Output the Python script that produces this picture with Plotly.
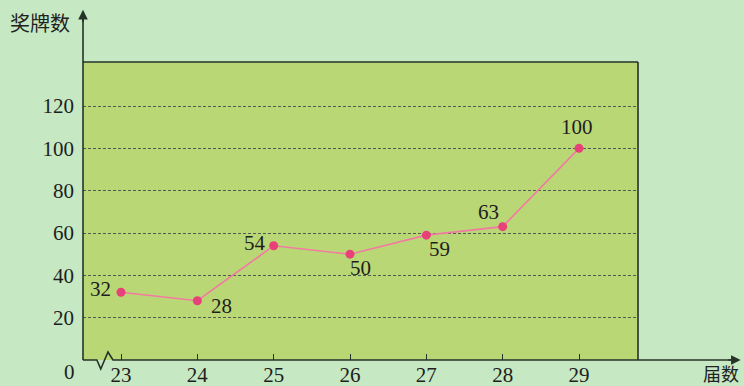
import plotly.graph_objects as go

# 届数 and 奖牌数
sessions = [23, 24, 25, 26, 27, 28, 29]
medals = [32, 28, 54, 50, 59, 63, 100]
y_ticks = [20, 40, 60, 80, 100, 120]

# pixel offsets of each value label from its marker
label_dx = [-21, 24, -19, 10, 13, -14, -2]
label_dy = [3, -5, 3, -14, -14, 15, 21]

BG = "#c6e8c2"
PLOT_BG = "#bad775"
AXIS = "#26322a"
SERIF = "Liberation Serif, Times New Roman, serif"
CJK = "Noto Sans CJK SC"

fig = go.Figure()
fig.add_trace(
    go.Scatter(
        x=sessions,
        y=medals,
        mode="lines+markers",
        line={"color": "#f27aa2", "width": 1.6},
        marker={"color": "#e8417a", "size": 9},
        cliponaxis=False,
        hoverinfo="skip",
    )
)

for x, y, dx, dy in zip(sessions, medals, label_dx, label_dy):
    fig.add_annotation(x=x, y=y, text=str(y), showarrow=False, xshift=dx, yshift=dy,
                       font={"family": SERIF, "size": 21, "color": "#1e1e1e"})

# axes frame: x axis with break zigzag, y axis, top and right border
zig = "M 0,0 L 0.025,0 L 0.032,-0.030 L 0.045,0.027 L 0.054,0 L 1.17,0"
fig.add_shape(type="path", path=zig, xref="paper", yref="paper",
              line={"color": AXIS, "width": 1.6})
fig.add_shape(type="line", x0=0, x1=0, y0=0, y1=1.16, xref="paper", yref="paper",
              line={"color": AXIS, "width": 1.6})
fig.add_shape(type="line", x0=0, x1=1, y0=1, y1=1, xref="paper", yref="paper",
              line={"color": AXIS, "width": 1.6})
fig.add_shape(type="line", x0=1, x1=1, y0=0, y1=1, xref="paper", yref="paper",
              line={"color": AXIS, "width": 1.6})

# arrow heads
fig.add_annotation(x=0, y=1.175, xref="paper", yref="paper", text="", showarrow=True,
                   ax=0, ay=14, arrowhead=2, arrowsize=1.2, arrowwidth=1.6,
                   arrowcolor=AXIS)
fig.add_annotation(x=1.185, y=0, xref="paper", yref="paper", text="", showarrow=True,
                   ax=-14, ay=0, arrowhead=2, arrowsize=1.2, arrowwidth=1.6,
                   arrowcolor=AXIS)

fig.add_annotation(x=-0.0775, y=1.134, xref="paper", yref="paper", text="奖牌数",
                   showarrow=False, xanchor="center", yanchor="middle",
                   font={"family": CJK, "size": 20, "color": "#222"})
fig.add_annotation(x=1.15, y=-0.042, xref="paper", yref="paper", text="届数",
                   showarrow=False, xanchor="center", yanchor="middle",
                   font={"family": CJK, "size": 18, "color": "#222"})
fig.add_annotation(x=-0.024, y=0, xref="paper", yref="paper", text="0",
                   showarrow=False, xanchor="center", yanchor="middle", yshift=-12,
                   font={"family": SERIF, "size": 21, "color": "#1e1e1e"})

fig.update_xaxes(
    range=[22.502, 29.773],
    tickvals=sessions,
    ticks="inside",
    ticklen=6,
    tickwidth=1.4,
    tickcolor=AXIS,
    showgrid=False,
    zeroline=False,
    showline=False,
    tickfont={"family": SERIF, "size": 21, "color": "#1e1e1e"},
    ticklabelstandoff=0,
)
fig.update_yaxes(
    range=[0, 140.8],
    tickvals=y_ticks,
    showgrid=True,
    gridcolor="#4e5a52",
    gridwidth=1,
    griddash="3px,2px",
    zeroline=False,
    showline=False,
    ticks="",
    ticklabelstandoff=8,
    tickfont={"family": SERIF, "size": 21, "color": "#1e1e1e"},
)
fig.update_layout(
    width=744,
    height=386,
    margin={"l": 83, "r": 106, "t": 62, "b": 26, "autoexpand": False},
    paper_bgcolor=BG,
    plot_bgcolor=PLOT_BG,
    showlegend=False,
)
fig.write_html(
    "out.html",
    config={"displayModeBar": False},
    post_script="document.body.style.margin='0';document.body.style.background='%s';" % BG,
)
